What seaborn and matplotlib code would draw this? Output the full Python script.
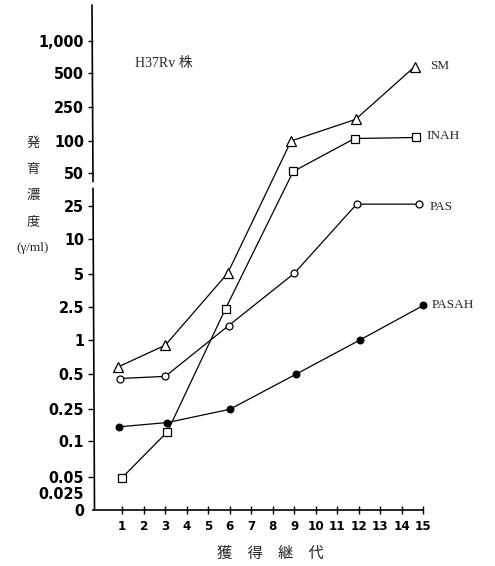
import numpy as np
import pandas as pd
import matplotlib
matplotlib.use("Agg")
import matplotlib.pyplot as plt
import seaborn as sns
from matplotlib import font_manager
from matplotlib.lines import Line2D
from matplotlib.ticker import NullLocator

# ---------------- data ----------------
passage_ticks = list(range(1, 16))
x_tick_labels = [str(i) for i in passage_ticks]

y_tick_values = [0, 0.025, 0.05, 0.1, 0.25, 0.5, 1, 2.5, 5, 10, 25, 50, 100, 250, 500, 1000]
y_tick_labels = ["0", "0.025", "0.05", "0.1", "0.25", "0.5", "1", "2.5", "5", "10",
                 "25", "50", "100", "250", "500", "1,000"]

sm_x = [0.8, 3, 5.9, 8.85, 11.85, 14.6]
sm_y = [0.58, 0.9, 5.1, 100, 180, 570]
inah_x = [0.97, 3.1, 5.8, 8.95, 11.8, 14.65]
inah_y = [0.047, 0.13, 2.4, 52, 107, 110]
pas_x = [0.9, 3.0, 5.95, 9.0, 11.9, 14.8]
pas_y = [0.46, 0.48, 1.5, 5.1, 26, 26]
pasah_x = [0.85, 3.1, 6.0, 9.07, 12.05, 15.0]
pasah_y = [0.15, 0.17, 0.25, 0.5, 1.0, 2.6]

series_names = ["SM", "INAH", "PAS", "PASAH"]

# ---------------- layout (pixels) ----------------
W, H = 495, 566
AX_L, AX_R, AX_B, AX_T = 93, 423.3, 510, 0
X1_PX, PX_PER_UNIT = 122.3, 21.5
# pixel row of each y tick (from figure top), same order as y_tick_values
tick_rows = [510, 493, 476.7, 440.7, 409.3, 374.3, 340, 307.3, 274.3, 239.3,
             206, 173.3, 141, 107.3, 72.7, 40.7]

anchor_vals = np.array(y_tick_values[1:], float)
anchor_log = np.log10(anchor_vals)
anchor_h = AX_B - np.array(tick_rows[1:], float)
h025 = anchor_h[0]
top_slope = (anchor_h[-1] - anchor_h[-2]) / (anchor_log[-1] - anchor_log[-2])


def fwd(v):
    v = np.asarray(v, float)
    lv = np.log10(np.clip(v, 0.025, None))
    hi = np.interp(lv, anchor_log, anchor_h)
    hi = np.where(lv > anchor_log[-1], anchor_h[-1] + (lv - anchor_log[-1]) * top_slope, hi)
    lo = v / 0.025 * h025
    return np.where(v < 0.025, lo, hi)


def inv(h):
    h = np.asarray(h, float)
    lv = np.interp(h, anchor_h, anchor_log)
    lv = np.where(h > anchor_h[-1], anchor_log[-1] + (h - anchor_h[-1]) / top_slope, lv)
    hi = 10 ** lv
    lo = h / h025 * 0.025
    return np.where(h < h025, lo, hi)


# ---------------- fonts ----------------
sns.set_style("ticks")
avail = {f.name for f in font_manager.fontManager.ttflist}
NARROW = "Liberation Sans Narrow" if "Liberation Sans Narrow" in avail else "DejaVu Sans"
SERIF = ["Liberation Serif", "Noto Sans CJK JP", "DejaVu Serif"]
CJK = ["Noto Sans CJK JP", "DejaVu Sans"]
plt.rcParams["font.family"] = ["Liberation Serif", "Noto Sans CJK JP", "DejaVu Sans"]

fig = plt.figure(figsize=(W / 100, H / 100), dpi=100)
fig.patch.set_facecolor("white")
ax = fig.add_axes([AX_L / W, (H - AX_B) / H, (AX_R - AX_L) / W, (AX_B - AX_T) / H])
ax.set_facecolor("white")

ax.set_yscale("function", functions=(fwd, inv))
ax.set_xlim(1 - (X1_PX - AX_L) / PX_PER_UNIT, 1 + (AX_R - X1_PX) / PX_PER_UNIT)
ax.set_ylim(0, float(inv(AX_B - AX_T)))

# ---------------- series ----------------
styles = [
    (sm_x, sm_y, "^", 7, "white"),
    (inah_x, inah_y, "s", 5.5, "white"),
    (pas_x, pas_y, "o", 5, "white"),
    (pasah_x, pasah_y, "o", 4.8, "black"),
]
for xs, ys, mk, ms, fc in styles:
    sns.lineplot(x=xs, y=ys, ax=ax, sort=False, estimator=None, color="black",
                 linewidth=0.9, marker=mk, markersize=ms, markerfacecolor=fc,
                 markeredgecolor="black", markeredgewidth=0.9, clip_on=False)

# ---------------- axes styling ----------------
for s in ["left", "top", "right"]:
    ax.spines[s].set_visible(False)
ax.spines["bottom"].set_linewidth(1.2)
ax.spines["bottom"].set_color("black")

ax.set_xticks(passage_ticks)
ax.set_xticklabels(x_tick_labels)
ax.set_yticks(y_tick_values)
ax.set_yticklabels(y_tick_labels)
ax.yaxis.set_minor_locator(NullLocator())
ax.xaxis.set_minor_locator(NullLocator())
ax.tick_params(axis="y", direction="out", length=3.5, width=1.0, pad=3, colors="black")
ax.tick_params(axis="x", direction="inout", length=6, width=1.0, pad=4, colors="black")
for t, v in zip(ax.yaxis.get_major_ticks(), y_tick_values):
    if v < 0.05:
        t.tick1line.set_visible(False)
for lab in ax.get_yticklabels():
    lab.set_fontfamily(NARROW)
    lab.set_fontweight("bold")
    lab.set_fontsize(11.5)
    if NARROW == "DejaVu Sans":
        lab.set_fontstretch("condensed")
for lab in ax.get_xticklabels():
    lab.set_fontfamily(NARROW)
    lab.set_fontweight("bold")
    lab.set_fontsize(9.5)
    if NARROW == "DejaVu Sans":
        lab.set_fontstretch("condensed")

# broken left axis line
for (xa, ya), (xb, yb) in [((92, 5), (93, 181.7)), ((93, 188.3), (94.5, 510))]:
    fig.add_artist(Line2D([xa / W, xb / W], [1 - ya / H, 1 - yb / H],
                          transform=fig.transFigure, color="black", linewidth=1.2))

# labels
ax.set_ylabel("発\n育\n濃\n度\n(γ/ml)", rotation=0, fontsize=9.5, family=SERIF,
              linespacing=2.55, ha="center", va="center", multialignment="center")
ax.yaxis.set_label_coords((33 - AX_L) / (AX_R - AX_L), (AX_B - 195.7) / (AX_B - AX_T))
ax.set_xlabel("獲　得　継　代", fontsize=11, family=CJK, va="center")
ax.xaxis.set_label_coords((270 - AX_L) / (AX_R - AX_L), (AX_B - 553) / (AX_B - AX_T))


def ftext(xp, yp, s, **kw):
    fig.text(xp / W, 1 - yp / H, s, **kw)


ftext(135, 63, "H37Rv 株", family=SERIF, fontsize=10, ha="left", va="center")
label_pos = [(430, 66), (426, 136), (430, 207), (432, 305)]
for name, (xp, yp) in zip(series_names, label_pos):
    ftext(xp, yp, name, family=SERIF, fontsize=9.5, ha="left", va="center")

fig.savefig("out.png", dpi=100, facecolor="white")
